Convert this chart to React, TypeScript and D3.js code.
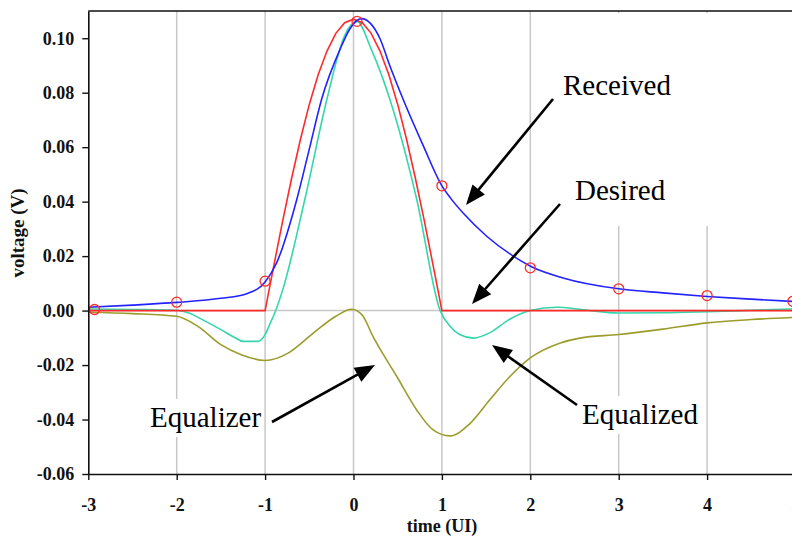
import React, { useEffect, useRef } from 'react';
import * as d3 from 'd3';

const W = 792, H = 538;

// Received pulse (blue)
const receivedT = [-3, -2.5, -2, -1.5, -1.2, -1.0, -0.87, -0.64, -0.5, -0.36, -0.15, -0.04, 0.09, 0.3, 0.41, 0.56, 0.79, 1.0, 1.1, 1.24, 1.51, 1.77, 2.02, 2.37, 3.0, 3.5, 4.0, 4.5, 5.0];
const receivedV = [0.0012, 0.002, 0.003, 0.0045, 0.0063, 0.0105, 0.0175, 0.041, 0.0593, 0.0777, 0.0961, 0.1035, 0.1072, 0.0998, 0.090, 0.0777, 0.0605, 0.0458, 0.0412, 0.0358, 0.0272, 0.0208, 0.0160, 0.012, 0.008, 0.0065, 0.0052, 0.0042, 0.0033];

// Desired pulse (red)
const desiredT = [-3, -1, -0.95, -0.9, -0.8, -0.7, -0.6, -0.5, -0.4, -0.3, -0.2, -0.1, 0, 0.1, 0.2, 0.3, 0.4, 0.5, 0.6, 0.7, 0.8, 0.9, 0.95, 1, 5];
const desiredV = [0, 0, 0.0084, 0.0167, 0.0331, 0.0486, 0.0629, 0.0757, 0.0866, 0.0953, 0.1018, 0.1057, 0.107, 0.1057, 0.1018, 0.0953, 0.0866, 0.0757, 0.0629, 0.0486, 0.0331, 0.0167, 0.0084, 0, 0];

// Equalized pulse (turquoise)
const equalizedT = [-3, -2.5, -2, -1.87, -1.7, -1.5, -1.35, -1.25, -1.08, -1.0, -0.94, -0.89, -0.8, -0.55, -0.3, -0.1, 0.04, 0.2, 0.41, 0.715, 0.98, 1.1, 1.2, 1.355, 1.55, 1.75, 2.0, 2.3, 2.6, 3.0, 3.5, 4.0, 4.5, 5.0];
const equalizedV = [0.0006, 0.0004, 0.0001, -0.0008, -0.0035, -0.007, -0.0098, -0.0113, -0.0113, -0.0088, -0.0045, -0.0008, 0.0077, 0.0409, 0.0777, 0.101, 0.1062, 0.096, 0.0777, 0.0409, 0, -0.006, -0.0088, -0.0101, -0.008, -0.0035, 0, 0.0012, 0.0003, -0.0009, -0.0008, -0.0004, 0.0001, 0.0006];

// Equalizer response (olive)
const equalizerT = [-3, -2.5, -2, -1.76, -1.5, -1.27, -1.0, -0.74, -0.5, -0.36, -0.2, -0.02, 0.1, 0.22, 0.49, 0.715, 0.9, 1.09, 1.32, 1.54, 1.77, 2.0, 2.34, 2.56, 3.0, 3.5, 4.0, 4.5, 5.0];
const equalizerV = [-0.0006, -0.0011, -0.0021, -0.0058, -0.0125, -0.0162, -0.0183, -0.0156, -0.0095, -0.0058, -0.0021, 0.0005, -0.0017, -0.0095, -0.0242, -0.0365, -0.0438, -0.046, -0.0414, -0.0328, -0.0242, -0.0174, -0.0119, -0.0101, -0.0088, -0.0068, -0.0045, -0.0033, -0.0025];

// sampled points of the received pulse (red circles)
const sampleT = [-2.93, -2, -1, 0.04, 1, 2, 3, 4, 4.97];
const sampleV = [0.0004, 0.0031, 0.0108, 0.1062, 0.0458, 0.0157, 0.008, 0.0055, 0.0034];

const xTicks = [-3, -2, -1, 0, 1, 2, 3, 4, 5];
const xTickLabels = ['-3', '-2', '-1', '0', '1', '2', '3', '4', '5'];
const yTicks = [-0.06, -0.04, -0.02, 0, 0.02, 0.04, 0.06, 0.08, 0.10];
const yTickLabels = ['-0.06', '-0.04', '-0.02', '0.00', '0.02', '0.04', '0.06', '0.08', '0.10'];

const serif = '"Liberation Serif", "Times New Roman", serif';

export default function App() {
  const ref = useRef<SVGSVGElement>(null);

  useEffect(() => {
    const svg = d3.select(ref.current);
    svg.selectAll('*').remove();

    const left = 88.3, right = 795.5, top = 11, bottom = 474;
    const x = d3.scaleLinear().domain([-3, 5]).range([left, right]);
    const y = d3.scaleLinear().domain([-0.06, 0.11]).range([bottom, top]);

    svg.append('rect').attr('width', W).attr('height', H).attr('fill', '#fff');

    svg.append('defs').append('clipPath').attr('id', 'plot')
      .append('rect').attr('x', left).attr('y', top).attr('width', right - left).attr('height', bottom - top);

    // grid
    const grid = svg.append('g');
    grid.selectAll('line.v').data(xTicks.slice(1)).enter().append('line')
      .attr('x1', d => x(d)).attr('x2', d => x(d))
      .attr('y1', top).attr('y2', bottom)
      .attr('stroke', '#c8c8c8').attr('stroke-width', 1.5);
    grid.append('line')
      .attr('x1', left).attr('x2', right).attr('y1', y(0)).attr('y2', y(0))
      .attr('stroke', '#c8c8c8').attr('stroke-width', 1.5);

    // label backgrounds hide the grid
    svg.append('rect').attr('x', 545).attr('y', 13).attr('width', 260).attr('height', 213).attr('fill', '#fff');
    svg.append('rect').attr('x', 146).attr('y', 399).attr('width', 118).attr('height', 38).attr('fill', '#fff');
    svg.append('rect').attr('x', 578).attr('y', 396).attr('width', 126).attr('height', 38).attr('fill', '#fff');

    const plot = svg.append('g').attr('clip-path', 'url(#plot)');
    const draw = (ts: number[], vs: number[], color: string, curve: any) => {
      const line = d3.line<number>().x(d => x(ts[d])).y(d => y(vs[d])).curve(curve);
      plot.append('path').attr('d', line(d3.range(ts.length)))
        .attr('fill', 'none').attr('stroke', color).attr('stroke-width', 1.6);
    };
    draw(equalizerT, equalizerV, '#9c9c2c', d3.curveMonotoneX);
    draw(equalizedT, equalizedV, '#34d6ac', d3.curveMonotoneX);
    draw(desiredT, desiredV, '#ff2a2a', d3.curveLinear);
    draw(receivedT, receivedV, '#2222ff', d3.curveMonotoneX);

    plot.selectAll('circle').data(d3.range(sampleT.length)).enter().append('circle')
      .attr('cx', i => x(sampleT[i])).attr('cy', i => y(sampleV[i])).attr('r', 5)
      .attr('fill', 'none').attr('stroke', '#ff2a2a').attr('stroke-width', 1.3);

    // axes
    const yAxis = d3.axisLeft(y).tickValues(yTicks).tickFormat((_, i) => yTickLabels[i])
      .tickSizeInner(6).tickSizeOuter(0).tickPadding(8);
    const xAxis = d3.axisBottom(x).tickValues(xTicks).tickFormat((_, i) => xTickLabels[i])
      .tickSizeInner(6).tickSizeOuter(0).tickPadding(18);

    const gy = svg.append('g').attr('transform', `translate(${left},0)`).call(yAxis);
    const gx = svg.append('g').attr('transform', `translate(0,${bottom})`).call(xAxis);
    [gx, gy].forEach(g => {
      g.select('.domain').attr('stroke', '#111').attr('stroke-width', 1.6);
      g.selectAll('.tick line').attr('stroke', '#111').attr('stroke-width', 1.4);
      g.selectAll('.tick text').attr('fill', '#111')
        .style('font-family', serif).style('font-size', '18px').style('font-weight', 'bold');
    });
    // top border
    svg.append('line').attr('x1', left).attr('x2', right).attr('y1', top).attr('y2', top)
      .attr('stroke', '#111').attr('stroke-width', 1.6);

    svg.append('text').attr('x', 442).attr('y', 532).attr('text-anchor', 'middle')
      .style('font-family', serif).style('font-size', '18px').style('font-weight', 'bold')
      .attr('fill', '#111').text('time (UI)');
    svg.append('text').attr('transform', 'translate(24,233) rotate(-90)').attr('text-anchor', 'middle')
      .style('font-family', serif).style('font-size', '19px').style('font-weight', 'bold')
      .attr('fill', '#111').text('voltage (V)');

    // annotations
    const notes = [
      { text: 'Received', tx: 563, ty: 95, x1: 553, y1: 99, x2: 466, y2: 205 },
      { text: 'Desired', tx: 575, ty: 200, x1: 560, y1: 204, x2: 472, y2: 304 },
      { text: 'Equalized', tx: 582, ty: 424, x1: 577, y1: 405, x2: 492, y2: 345 },
      { text: 'Equalizer', tx: 150, ty: 427, x1: 272, y1: 422, x2: 375, y2: 365 },
    ];
    const ann = svg.append('g');
    notes.forEach(n => {
      const dx = n.x2 - n.x1, dy = n.y2 - n.y1;
      const len = Math.sqrt(dx * dx + dy * dy);
      const ux = dx / len, uy = dy / len;
      const hl = 20, hw = 8;
      const bx = n.x2 - ux * hl, by = n.y2 - uy * hl;
      ann.append('line').attr('x1', n.x1).attr('y1', n.y1).attr('x2', bx + ux * 2).attr('y2', by + uy * 2)
        .attr('stroke', '#000').attr('stroke-width', 2.6);
      ann.append('polygon')
        .attr('points', `${n.x2},${n.y2} ${bx - uy * hw},${by + ux * hw} ${bx + uy * hw},${by - ux * hw}`)
        .attr('fill', '#000');
      ann.append('text').attr('x', n.tx).attr('y', n.ty)
        .style('font-family', serif).style('font-size', '29px').attr('fill', '#000').text(n.text);
    });
  }, []);

  return <svg ref={ref} width={W} height={H} style={{ position: 'absolute', left: 0, top: 0 }} />;
}
